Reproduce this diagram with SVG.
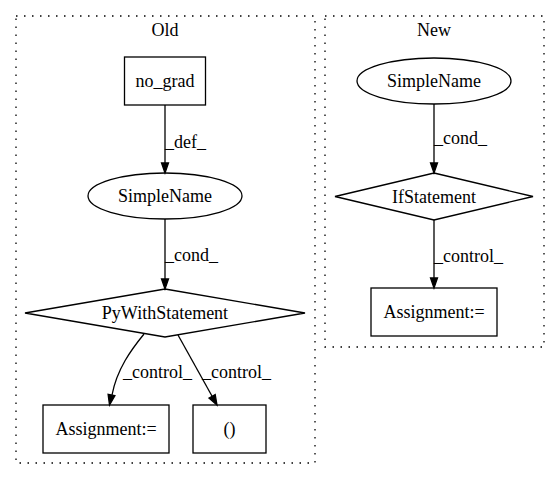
<svg xmlns="http://www.w3.org/2000/svg" width="560" height="480" viewBox="0 0 560 480">
<style>
text{font-family:"Liberation Serif","Times New Roman",serif;font-size:18px;fill:#000;text-anchor:middle}
.lbl{text-anchor:start}
.cl{fill:none;stroke:#000;stroke-width:1.3;stroke-dasharray:1.5,6.5}
.n{fill:none;stroke:#000;stroke-width:1.3}
.e{fill:none;stroke:#000;stroke-width:1.3}
.ah{fill:#000;stroke:#000;stroke-width:1.3}
</style>
<rect width="560" height="480" fill="#fff"/>
<g id="cluster_old">
<rect class="cl" x="16" y="16" width="299" height="447"/>
<text x="165" y="36">Old</text>
</g>
<g id="cluster_new">
<rect class="cl" x="325" y="16" width="219" height="331"/>
<text x="434" y="36">New</text>
</g>
<g id="old_no_grad">
<rect class="n" x="124.5" y="57" width="81" height="48"/>
<text x="165" y="87">no_grad</text>
</g>
<g id="old_simplename">
<ellipse class="n" cx="165" cy="196" rx="77" ry="23"/>
<text x="165" y="202">SimpleName</text>
</g>
<g id="old_pywith">
<polygon class="n" points="165,289 305,313 165,337 25,313"/>
<text x="165" y="319">PyWithStatement</text>
</g>
<g id="old_assign">
<rect class="n" x="43" y="405" width="126" height="48"/>
<text x="106" y="435">Assignment:=</text>
</g>
<g id="old_paren">
<rect class="n" x="193" y="405" width="73" height="48"/>
<text x="229.5" y="435">()</text>
</g>
<g id="new_simplename">
<ellipse class="n" cx="434" cy="81" rx="77" ry="23"/>
<text x="434" y="87">SimpleName</text>
</g>
<g id="new_if">
<polygon class="n" points="434,173 533,196.5 434,220 335,196.5"/>
<text x="434" y="202.5">IfStatement</text>
</g>
<g id="new_assign">
<rect class="n" x="371" y="288" width="126" height="48"/>
<text x="434" y="318">Assignment:=</text>
</g>
<g id="connectors">
<path class="e" d="M165,105 L165,163"/>
<polygon class="ah" points="161.5,163 168.5,163 165,173"/>
<text class="lbl" x="165" y="148">_def_</text>
<path class="e" d="M165,219 L165,279"/>
<polygon class="ah" points="161.5,279 168.5,279 165,289"/>
<text class="lbl" x="165" y="261">_cond_</text>
<path class="e" d="M144,334 C131,350 117,369 112,395"/>
<polygon class="ah" points="114.9,395.7 108.1,394.3 109.5,405"/>
<text class="lbl" x="123" y="378">_control_</text>
<path class="e" d="M178,335 L212.1,396.3"/>
<polygon class="ah" points="215.2,394.6 209,398 217,405"/>
<text class="lbl" x="202" y="378">_control_</text>
<path class="e" d="M434,104 L434,163"/>
<polygon class="ah" points="430.5,163 437.5,163 434,173"/>
<text class="lbl" x="434" y="144">_cond_</text>
<path class="e" d="M434,220 L434,278"/>
<polygon class="ah" points="430.5,278 437.5,278 434,288"/>
<text class="lbl" x="434" y="262">_control_</text>
</g>
</svg>
